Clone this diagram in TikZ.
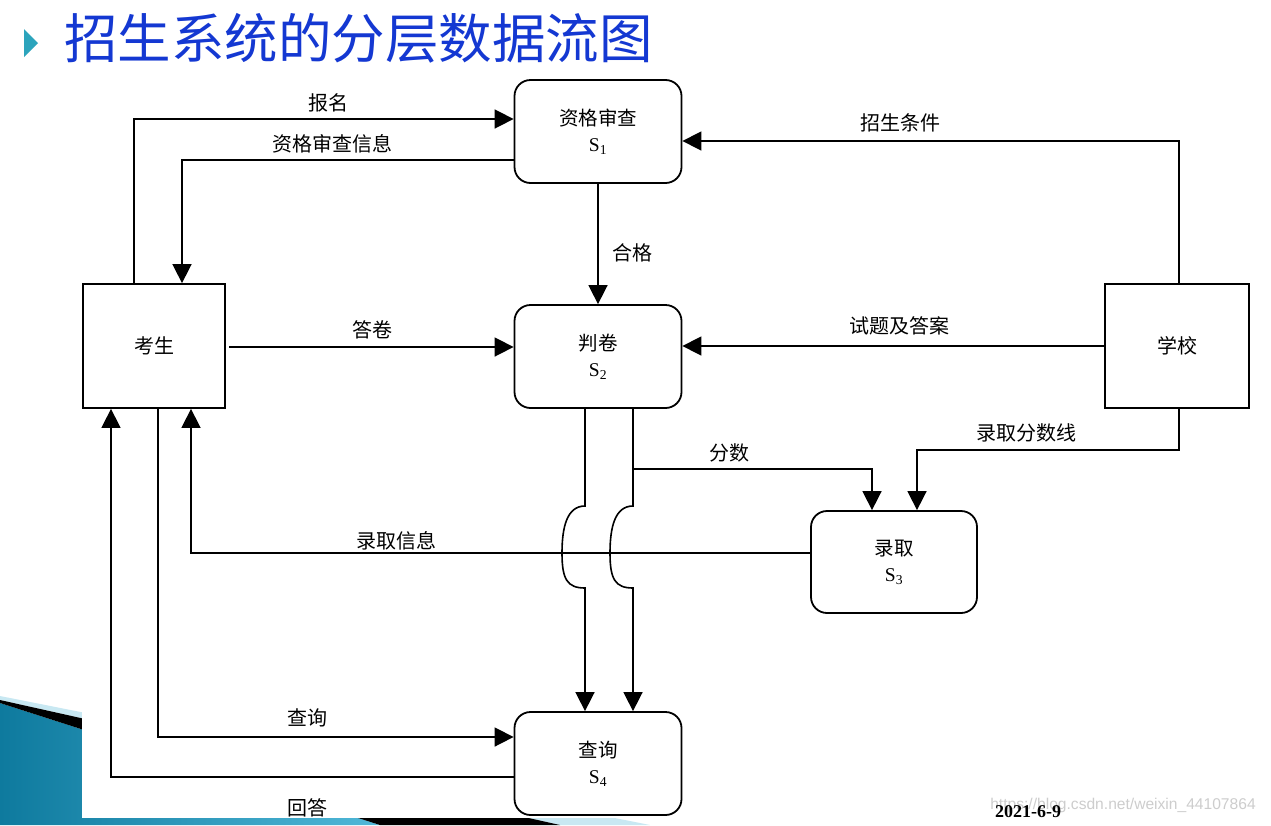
\documentclass[tikz,border=0pt]{standalone}
\usepackage{fontspec}
\setmainfont{Liberation Serif}
\newfontfamily\cjk{Noto Sans CJK SC}
\newfontfamily\wmfont{Liberation Sans}
\usetikzlibrary{arrows.meta,calc}
\definecolor{titleblue}{RGB}{20,56,210}
\definecolor{tealdark}{RGB}{14,122,158}
\definecolor{teallight}{RGB}{80,184,216}
\definecolor{palecyan}{RGB}{200,232,242}
\definecolor{bullet}{RGB}{44,164,188}
\definecolor{wmgray}{RGB}{205,205,205}
\begin{document}
\begin{tikzpicture}[x=1pt,y=-1pt,
  flow/.style={line width=1.6pt,-{Triangle[length=19pt,width=19pt]}},
  proc/.style={draw,line width=1.8pt,rounded corners=16pt,minimum width=167pt,minimum height=103pt,inner sep=0pt,align=center,font=\fontsize{19.5}{26}\selectfont},
  ext/.style={draw,line width=1.8pt,minimum width=142pt,minimum height=124pt,inner sep=0pt,font=\cjk\fontsize{20}{24}\selectfont},
  lbl/.style={inner sep=0pt,font=\cjk\fontsize{20}{24}\selectfont}]
\useasboundingbox (0,0) rectangle (1271,825);
\fill[white] (0,0) rectangle (1271,825);
% decoration bottom-left
\fill[palecyan] (0,696) -- (650,825) -- (560,825) -- (0,700) -- cycle;
\shade[left color=tealdark,right color=teallight] (0,703) -- (380,825) -- (0,825) -- cycle;
\fill[black] (0,700) -- (560,825) -- (380,825) -- (0,703) -- cycle;
\fill[white] (82,690) rectangle (1271,818);
% title
\fill[bullet] (24,29) -- (38,43) -- (24,57) -- cycle;
\node[font=\cjk\fontsize{53.5}{56}\selectfont,text=titleblue,anchor=west,inner sep=0pt] (title) at (64,38) {招生系统的分层数据流图};
% nodes
\node[ext] (ks) at (154,346) {考生};
\node[ext,minimum width=144pt] (xx) at (1177,346) {学校};
\node[proc] (s1) at (598,131.5) {{\cjk 资格审查}\\S\textsubscript{1}};
\node[proc] (s2) at (598,356.5) {{\cjk 判卷}\\S\textsubscript{2}};
\node[proc,minimum width=166pt,minimum height=102pt] (s3) at (894,562) {{\cjk 录取}\\S\textsubscript{3}};
\node[proc] (s4) at (598,763.5) {{\cjk 查询}\\S\textsubscript{4}};
% coordinates
\coordinate (c1) at (134,119);
\coordinate (c2) at (182,160);
\coordinate (c3) at (1179,141);
\coordinate (c4) at (229,347);
\coordinate (c5) at (1179,450);
\coordinate (c6) at (917,450);
\coordinate (c7) at (633,469);
\coordinate (c8) at (872,469);
\coordinate (c9) at (191,553);
\coordinate (c10) at (158,737);
\coordinate (c11) at (111,777);
\coordinate (b1t) at (585,506);
\coordinate (b1b) at (585,588);
\coordinate (b2t) at (633,506);
\coordinate (b2b) at (633,588);
% connectors
\draw[flow] (c1 |- ks.north) -- (c1) -- (c1 -| s1.west);
\draw[flow] (c2 -| s1.west) -- (c2) -- (c2 |- ks.north);
\draw[flow] (c3 |- xx.north) -- (c3) -- (c3 -| s1.east);
\draw[flow] (s1.south) -- (s2.north);
\draw[flow] (c4) -- (c4 -| s2.west);
\draw[flow] (xx.west) -- (xx.west -| s2.east);
\draw[flow] (c5 |- xx.south) -- (c5) -- (c6) -- (c6 |- s3.north);
\draw[flow] (c7) -- (c8) -- (c8 |- s3.north);
\draw[flow] (c9 -| s3.west) -- (c9) -- (c9 |- ks.south);
\draw[flow] (b1t |- s2.south) -- (b1t) .. controls +(-18,0) and +(0,-26) .. ++(-23,47) .. controls +(0,26) and +(-18,0) .. (b1b) -- (b1b |- s4.north);
\draw[flow] (b2t |- s2.south) -- (b2t) .. controls +(-18,0) and +(0,-26) .. ++(-23,47) .. controls +(0,26) and +(-18,0) .. (b2b) -- (b2b |- s4.north);
\draw[flow] (c10 |- ks.south) -- (c10) -- (c10 -| s4.west);
\draw[flow] (c11 -| s4.west) -- (c11) -- (c11 |- ks.south);
% labels
\node[lbl] (l1) at (328,103) {报名};
\node[lbl] (l2) at (332,144) {资格审查信息};
\node[lbl] (l3) at (900,123) {招生条件};
\node[lbl] (l4) at (632,253) {合格};
\node[lbl] (l5) at (372,330) {答卷};
\node[lbl] (l6) at (899,326) {试题及答案};
\node[lbl] (l7) at (1026,433) {录取分数线};
\node[lbl] (l8) at (729,453) {分数};
\node[lbl] (l9) at (396,541) {录取信息};
\node[lbl] (l10) at (307,718) {查询};
\node[lbl] (l11) at (307,808) {回答};
% footer
\node[font=\wmfont\fontsize{15.6}{17}\selectfont,text=wmgray,inner sep=0pt] (wm) at (1123,805) {https://blog.csdn.net/weixin\_44107864};
\node[font=\bfseries\fontsize{18}{20}\selectfont,inner sep=0pt] (date) at (1028,812) {2021-6-9};
\end{tikzpicture}
\end{document}
